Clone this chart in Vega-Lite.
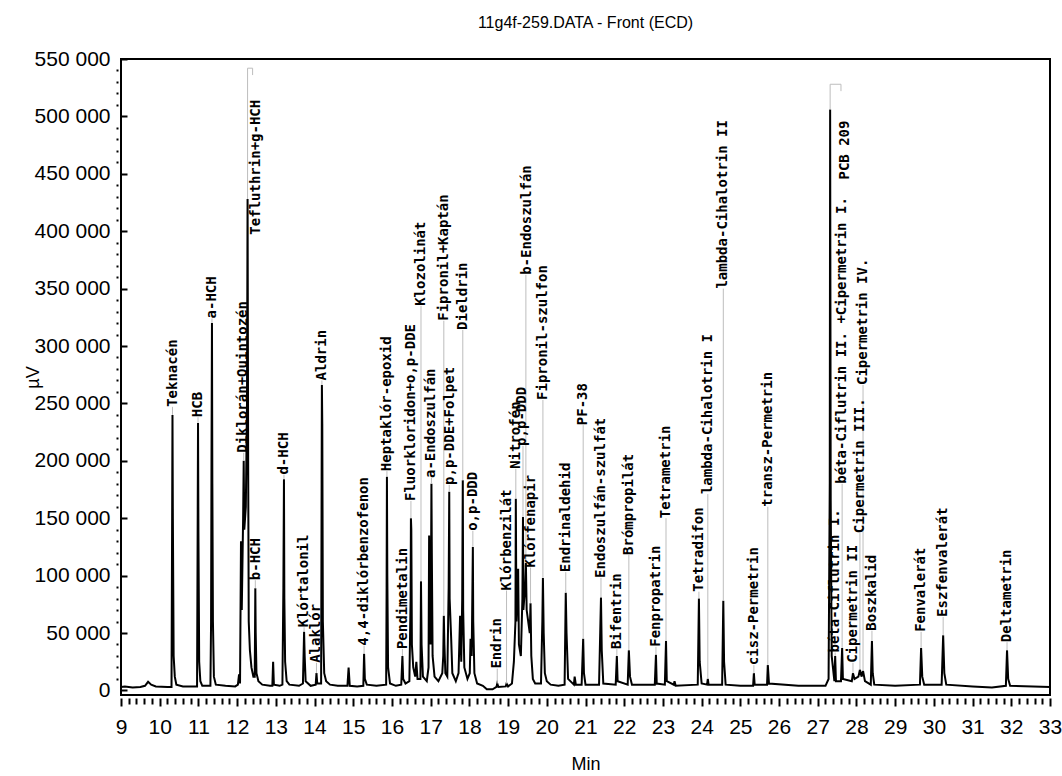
{
"$schema": "https://vega.github.io/schema/vega-lite/v6.json",
"width": 929, "height": 636,
"autosize": {"type": "none"},
"padding": {"left": 121, "top": 59, "right": 12, "bottom": 81},
"background": "white",
"config": {"view": {"stroke": "black", "strokeWidth": 2}, "axis": {"labelOverlap": false, "labelFlush": false, "labelBound": false}},
"title": {"text": "11g4f-259.DATA - Front (ECD)", "font": "Liberation Sans", "fontSize": 16, "fontWeight": "normal", "color": "black", "offset": 17, "anchor": "middle"},
"datasets": {
"trace": [
{"t":9,"v":3000},{"t":9.1,"v":3500},{"t":9.3,"v":2500},{"t":9.5,"v":3000},{"t":9.62,"v":4000},{"t":9.7,"v":7500},{"t":9.78,"v":5000},{"t":9.9,"v":3500},{"t":10.2,"v":3000},
{"t":10.305,"v":3000},{"t":10.322,"v":160000},{"t":10.33,"v":240000},{"t":10.34,"v":150000},{"t":10.36,"v":30000},{"t":10.39,"v":12000},{"t":10.43,"v":5000},{"t":10.6,"v":3500},
{"t":10.965,"v":3500},{"t":10.982,"v":155000},{"t":10.99,"v":233000},{"t":11.0,"v":140000},{"t":11.02,"v":25000},{"t":11.05,"v":8000},{"t":11.1,"v":4000},
{"t":11.31,"v":4000},{"t":11.327,"v":60000},{"t":11.338,"v":200000},{"t":11.35,"v":320000},{"t":11.36,"v":180000},{"t":11.375,"v":60000},{"t":11.4,"v":12000},{"t":11.45,"v":5000},{"t":11.7,"v":4000},{"t":11.95,"v":3500},
{"t":12.02,"v":5000},{"t":12.05,"v":14000},{"t":12.075,"v":6000},{"t":12.1,"v":130000},{"t":12.12,"v":70000},{"t":12.155,"v":150000},{"t":12.17,"v":200000},{"t":12.185,"v":140000},{"t":12.225,"v":160000},{"t":12.255,"v":250000},{"t":12.27,"v":428000},{"t":12.285,"v":200000},{"t":12.3,"v":60000},{"t":12.33,"v":35000},{"t":12.37,"v":20000},{"t":12.42,"v":12000},
{"t":12.455,"v":12000},{"t":12.47,"v":89000},{"t":12.48,"v":50000},{"t":12.5,"v":15000},{"t":12.55,"v":8000},{"t":12.65,"v":5000},{"t":12.85,"v":4000},{"t":12.91,"v":4000},{"t":12.93,"v":25000},{"t":12.95,"v":5000},{"t":13.1,"v":4000},
{"t":13.17,"v":5000},{"t":13.195,"v":90000},{"t":13.21,"v":184000},{"t":13.22,"v":80000},{"t":13.24,"v":25000},{"t":13.28,"v":8000},{"t":13.35,"v":5000},{"t":13.6,"v":4000},
{"t":13.7,"v":6000},{"t":13.73,"v":51000},{"t":13.745,"v":30000},{"t":13.77,"v":8000},{"t":13.9,"v":4000},{"t":14.03,"v":5000},{"t":14.05,"v":15000},{"t":14.07,"v":6000},
{"t":14.17,"v":6000},{"t":14.183,"v":180000},{"t":14.19,"v":266000},{"t":14.2,"v":232000},{"t":14.215,"v":60000},{"t":14.25,"v":15000},{"t":14.3,"v":8000},{"t":14.4,"v":5000},{"t":14.6,"v":4000},
{"t":14.85,"v":4000},{"t":14.88,"v":20000},{"t":14.91,"v":4000},{"t":15.1,"v":3500},{"t":15.26,"v":4000},{"t":15.28,"v":32000},{"t":15.3,"v":10000},{"t":15.35,"v":5000},{"t":15.6,"v":4000},
{"t":15.85,"v":5000},{"t":15.862,"v":90000},{"t":15.87,"v":186000},{"t":15.88,"v":100000},{"t":15.9,"v":20000},{"t":15.95,"v":6000},{"t":16.1,"v":4000},
{"t":16.24,"v":5000},{"t":16.27,"v":30000},{"t":16.29,"v":10000},{"t":16.35,"v":6000},{"t":16.45,"v":8000},{"t":16.482,"v":80000},{"t":16.49,"v":150000},{"t":16.5,"v":140000},{"t":16.515,"v":40000},{"t":16.55,"v":20000},{"t":16.6,"v":12000},{"t":16.63,"v":25000},{"t":16.66,"v":10000},
{"t":16.735,"v":10000},{"t":16.75,"v":95000},{"t":16.765,"v":40000},{"t":16.8,"v":12000},{"t":16.9,"v":8000},{"t":16.945,"v":20000},{"t":16.96,"v":135000},{"t":16.975,"v":60000},{"t":17.0,"v":40000},{"t":17.02,"v":180000},{"t":17.03,"v":120000},{"t":17.05,"v":30000},{"t":17.1,"v":12000},{"t":17.2,"v":8000},
{"t":17.3,"v":15000},{"t":17.325,"v":30000},{"t":17.34,"v":65000},{"t":17.355,"v":40000},{"t":17.38,"v":15000},{"t":17.43,"v":12000},{"t":17.465,"v":90000},{"t":17.48,"v":173000},{"t":17.49,"v":80000},{"t":17.53,"v":45000},{"t":17.56,"v":15000},{"t":17.65,"v":8000},
{"t":17.72,"v":15000},{"t":17.76,"v":65000},{"t":17.79,"v":25000},{"t":17.815,"v":80000},{"t":17.83,"v":183000},{"t":17.84,"v":70000},{"t":17.87,"v":20000},{"t":17.95,"v":10000},{"t":18.01,"v":15000},{"t":18.03,"v":45000},{"t":18.06,"v":30000},{"t":18.09,"v":125000},{"t":18.1,"v":60000},{"t":18.13,"v":15000},{"t":18.2,"v":6000},
{"t":18.35,"v":4000},{"t":18.45,"v":1000},{"t":18.6,"v":1000},{"t":18.7,"v":3000},{"t":18.72,"v":6000},{"t":18.75,"v":3000},{"t":18.94,"v":3500},{"t":18.96,"v":6000},{"t":19.0,"v":3500},
{"t":19.1,"v":6000},{"t":19.15,"v":25000},{"t":19.19,"v":60000},{"t":19.2,"v":167000},{"t":19.215,"v":60000},{"t":19.26,"v":106000},{"t":19.28,"v":40000},{"t":19.33,"v":30000},{"t":19.37,"v":80000},{"t":19.385,"v":151000},{"t":19.395,"v":70000},{"t":19.44,"v":90000},{"t":19.46,"v":111000},{"t":19.48,"v":70000},{"t":19.56,"v":50000},{"t":19.58,"v":76000},{"t":19.6,"v":30000},{"t":19.64,"v":10000},{"t":19.7,"v":6000},
{"t":19.85,"v":6000},{"t":19.885,"v":60000},{"t":19.9,"v":98000},{"t":19.92,"v":50000},{"t":19.95,"v":15000},{"t":20.0,"v":8000},{"t":20.1,"v":5000},{"t":20.3,"v":4000},
{"t":20.46,"v":5000},{"t":20.49,"v":85000},{"t":20.51,"v":50000},{"t":20.55,"v":10000},{"t":20.7,"v":5000},{"t":20.72,"v":12000},{"t":20.75,"v":5000},{"t":20.9,"v":5000},{"t":20.94,"v":45000},{"t":20.96,"v":15000},{"t":21.0,"v":5000},
{"t":21.35,"v":5000},{"t":21.4,"v":81000},{"t":21.42,"v":35000},{"t":21.46,"v":6000},{"t":21.78,"v":5000},{"t":21.81,"v":30000},{"t":21.83,"v":8000},{"t":22.09,"v":5000},{"t":22.12,"v":35000},{"t":22.15,"v":12000},{"t":22.2,"v":5000},
{"t":22.79,"v":5000},{"t":22.82,"v":31000},{"t":22.84,"v":6000},{"t":23.05,"v":5000},{"t":23.08,"v":43000},{"t":23.1,"v":8000},{"t":23.28,"v":5000},{"t":23.3,"v":8000},{"t":23.33,"v":4000},
{"t":23.9,"v":5000},{"t":23.93,"v":80000},{"t":23.95,"v":25000},{"t":24.0,"v":6000},{"t":24.14,"v":5000},{"t":24.16,"v":10000},{"t":24.18,"v":5000},{"t":24.53,"v":5000},{"t":24.56,"v":78000},{"t":24.58,"v":25000},{"t":24.62,"v":5000},
{"t":25.0,"v":4000},{"t":25.33,"v":4000},{"t":25.35,"v":15000},{"t":25.37,"v":5000},{"t":25.69,"v":5000},{"t":25.71,"v":22000},{"t":25.74,"v":6000},{"t":26.5,"v":4000},
{"t":27.2,"v":4000},{"t":27.28,"v":10000},{"t":27.31,"v":180000},{"t":27.32,"v":506000},{"t":27.335,"v":165000},{"t":27.36,"v":30000},{"t":27.43,"v":8000},{"t":27.45,"v":30000},{"t":27.47,"v":8000},{"t":27.6,"v":8000},{"t":27.63,"v":37000},{"t":27.65,"v":10000},
{"t":27.88,"v":8000},{"t":27.91,"v":15000},{"t":27.95,"v":10000},{"t":28.05,"v":12000},{"t":28.09,"v":18000},{"t":28.13,"v":12000},{"t":28.17,"v":17000},{"t":28.22,"v":8000},{"t":28.37,"v":5000},{"t":28.4,"v":43000},{"t":28.42,"v":15000},{"t":28.46,"v":5000},
{"t":29.0,"v":4000},{"t":29.64,"v":5000},{"t":29.67,"v":37000},{"t":29.7,"v":12000},{"t":29.75,"v":5000},{"t":30.2,"v":5000},{"t":30.24,"v":48000},{"t":30.27,"v":15000},{"t":30.32,"v":5000},
{"t":31.0,"v":3500},{"t":31.5,"v":2500},{"t":31.86,"v":4000},{"t":31.89,"v":35000},{"t":31.92,"v":10000},{"t":31.97,"v":4000},{"t":33.0,"v":3000}
],
"peaks": [
{"name":"Teknacén","t":10.33,"h":240000,"top":247000,"lt":10.34,"ly":247000},
{"name":"HCB","t":10.99,"h":233000,"top":238000,"lt":11.0,"ly":238000},
{"name":"a-HCH","t":11.35,"h":320000,"top":324000,"lt":11.36,"ly":324000},
{"name":"Diklorán+Quintozén","t":12.17,"h":200000,"top":207000,"lt":12.16,"ly":207000},
{"name":"Tefluthrin+g-HCH","t":12.27,"h":428000,"top":542000,"lt":12.5,"ly":397000},
{"name":"b-HCH","t":12.47,"h":89000,"top":96000,"lt":12.5,"ly":96000},
{"name":"d-HCH","t":13.21,"h":184000,"top":188000,"lt":13.22,"ly":188000},
{"name":"Klórtalonil","t":13.73,"h":51000,"top":55000,"lt":13.72,"ly":55000},
{"name":"Alaklór","t":14.05,"h":15000,"top":24000,"lt":14.05,"ly":24000},
{"name":"Aldrin","t":14.19,"h":266000,"top":270000,"lt":14.19,"ly":270000},
{"name":"4,4-diklórbenzofenon","t":15.28,"h":32000,"top":39000,"lt":15.29,"ly":39000},
{"name":"Heptaklór-epoxid","t":15.87,"h":186000,"top":191000,"lt":15.87,"ly":191000},
{"name":"Pendimetalin","t":16.27,"h":30000,"top":36000,"lt":16.28,"ly":36000},
{"name":"Fluorkloridon+o,p-DDE","t":16.49,"h":150000,"top":165000,"lt":16.49,"ly":165000},
{"name":"Klozolinát","t":16.75,"h":95000,"top":335000,"lt":16.75,"ly":335000},
{"name":"a-Endoszulfán","t":17.02,"h":180000,"top":185000,"lt":17.02,"ly":185000},
{"name":"Fipronil+Kaptán","t":17.34,"h":65000,"top":322000,"lt":17.34,"ly":322000},
{"name":"p,p-DDE+Folpet","t":17.48,"h":173000,"top":179000,"lt":17.5,"ly":179000},
{"name":"Dieldrin","t":17.83,"h":183000,"top":314000,"lt":17.84,"ly":314000},
{"name":"o,p-DDD","t":18.09,"h":125000,"top":139000,"lt":18.1,"ly":139000},
{"name":"Endrin","t":18.72,"h":6000,"top":19000,"lt":18.72,"ly":19000},
{"name":"Klórbenzilát","t":18.96,"h":6000,"top":87000,"lt":18.96,"ly":87000},
{"name":"Nitrofén","t":19.2,"h":167000,"top":193000,"lt":19.2,"ly":193000},
{"name":"p,p-DDD","t":19.385,"h":151000,"top":213000,"lt":19.37,"ly":213000},
{"name":"b-Endoszulfán","t":19.46,"h":111000,"top":362000,"lt":19.48,"ly":362000},
{"name":"Klórfenapir","t":19.58,"h":76000,"top":107000,"lt":19.6,"ly":107000},
{"name":"Fipronil-szulfon","t":19.9,"h":98000,"top":253000,"lt":19.9,"ly":253000},
{"name":"Endrinaldehid","t":20.49,"h":85000,"top":103000,"lt":20.49,"ly":103000},
{"name":"PF-38","t":20.94,"h":45000,"top":231000,"lt":20.94,"ly":231000},
{"name":"Endoszulfán-szulfát","t":21.4,"h":81000,"top":98000,"lt":21.4,"ly":98000},
{"name":"Bifentrin","t":21.81,"h":30000,"top":36000,"lt":21.81,"ly":36000},
{"name":"Brómpropilát","t":22.12,"h":35000,"top":118000,"lt":22.12,"ly":118000},
{"name":"Fenpropatrin","t":22.82,"h":31000,"top":38000,"lt":22.82,"ly":38000},
{"name":"Tetrametrin","t":23.08,"h":43000,"top":150000,"lt":23.08,"ly":150000},
{"name":"Tetradifon","t":23.93,"h":80000,"top":86000,"lt":23.93,"ly":86000},
{"name":"lambda-Cihalotrin I","t":24.16,"h":10000,"top":171000,"lt":24.16,"ly":171000},
{"name":"lambda-Cihalotrin II","t":24.56,"h":78000,"top":350000,"lt":24.56,"ly":350000},
{"name":"cisz-Permetrin","t":25.35,"h":15000,"top":22000,"lt":25.35,"ly":22000},
{"name":"transz-Permetrin","t":25.71,"h":22000,"top":160000,"lt":25.71,"ly":160000},
{"name":"PCB 209","t":27.32,"h":506000,"top":528000,"lt":27.71,"ly":445000},
{"name":"béta-Ciflutrin I.","t":27.45,"h":30000,"top":33000,"lt":27.45,"ly":33000},
{"name":"béta-Ciflutrin II. +Cipermetrin I.","t":27.63,"h":37000,"top":180000,"lt":27.63,"ly":180000},
{"name":"Cipermetrin II","t":27.91,"h":15000,"top":24000,"lt":27.91,"ly":24000},
{"name":"Cipermetrin III.","t":28.09,"h":18000,"top":137000,"lt":28.09,"ly":137000},
{"name":"Cipermetrin IV.","t":28.17,"h":17000,"top":266000,"lt":28.17,"ly":266000},
{"name":"Boszkalid","t":28.4,"h":43000,"top":52000,"lt":28.4,"ly":52000},
{"name":"Fenvalerát","t":29.67,"h":37000,"top":51000,"lt":29.67,"ly":51000},
{"name":"Eszfenvalerát","t":30.24,"h":48000,"top":64000,"lt":30.24,"ly":64000},
{"name":"Deltametrin","t":31.89,"h":35000,"top":42000,"lt":31.89,"ly":42000}
],
"brackets": [
{"t1":12.27,"t2":12.4,"v1":542000,"v2":542000},
{"t1":12.4,"t2":12.4,"v1":542000,"v2":536000},
{"t1":27.32,"t2":27.6,"v1":528000,"v2":528000},
{"t1":27.6,"t2":27.6,"v1":528000,"v2":522000}
]
},
"layer": [
{"data": {"name": "trace"}, "mark": {"type": "line", "color": "black", "strokeWidth": 2, "clip": true},
 "encoding": {
  "x": {"field": "t", "type": "quantitative", "scale": {"domain": [9, 33], "nice": false, "zero": false},
   "axis": {"tickCount": 1000, "values": [9,9.2,9.4,9.6,9.8,10,10.2,10.4,10.6,10.8,11,11.2,11.4,11.6,11.8,12,12.2,12.4,12.6,12.8,13,13.2,13.4,13.6,13.8,14,14.2,14.4,14.6,14.8,15,15.2,15.4,15.6,15.8,16,16.2,16.4,16.6,16.8,17,17.2,17.4,17.6,17.8,18,18.2,18.4,18.6,18.8,19,19.2,19.4,19.6,19.8,20,20.2,20.4,20.6,20.8,21,21.2,21.4,21.6,21.8,22,22.2,22.4,22.6,22.8,23,23.2,23.4,23.6,23.8,24,24.2,24.4,24.6,24.8,25,25.2,25.4,25.6,25.8,26,26.2,26.4,26.6,26.8,27,27.2,27.4,27.6,27.8,28,28.2,28.4,28.6,28.8,29,29.2,29.4,29.6,29.8,30,30.2,30.4,30.6,30.8,31,31.2,31.4,31.6,31.8,32,32.2,32.4,32.6,32.8,33],
    "labelExpr": "abs(datum.value - round(datum.value)) < 0.001 ? format(datum.value, 'd') : ''",
    "tickSize": {"condition": {"test": "abs(datum.value - round(datum.value)) < 0.001", "value": 8}, "value": 6},
    "tickWidth": 2, "tickColor": "black", "offset": 3, "domain": false, "grid": false,
    "labelFont": "Liberation Sans", "labelFontSize": 21, "labelColor": "black", "labelPadding": 10, "labelOverlap": false, "labelFlush": false,
    "title": "Min", "titleFont": "Liberation Sans", "titleFontSize": 18, "titleFontWeight": "normal", "titleColor": "black", "titlePadding": 18}},
  "y": {"field": "v", "type": "quantitative", "scale": {"domain": [-4000, 550000], "nice": false, "zero": false},
   "axis": {"tickCount": 1000, "values": [0,10000,20000,30000,40000,50000,60000,70000,80000,90000,100000,110000,120000,130000,140000,150000,160000,170000,180000,190000,200000,210000,220000,230000,240000,250000,260000,270000,280000,290000,300000,310000,320000,330000,340000,350000,360000,370000,380000,390000,400000,410000,420000,430000,440000,450000,460000,470000,480000,490000,500000,510000,520000,530000,540000,550000],
    "labelExpr": "datum.value % 50000 === 0 ? replace(format(datum.value, ','), ',', ' ') : ''",
    "tickSize": {"condition": {"test": "datum.value % 50000 === 0", "value": -6}, "value": 5},
    "tickDash": {"condition": {"test": "datum.value % 50000 === 0", "value": [1, 0]}, "value": [2, 3]},
    "tickDashOffset": {"condition": {"test": "datum.value % 50000 === 0", "value": 0}, "value": 2},
    "labelPadding": {"condition": {"test": "datum.value % 50000 === 0", "value": 17}, "value": 0},
    "tickWidth": 2, "tickColor": "black", "domain": false, "grid": false,
    "labelFont": "Liberation Sans", "labelFontSize": 21, "labelColor": "black", "labelOverlap": false, "labelFlush": false,
    "title": "µV", "titleFont": "Liberation Sans", "titleFontSize": 18, "titleFontWeight": "normal", "titleColor": "black",
    "titleAngle": 270, "titleAlign": "center", "titleBaseline": "middle", "titleX": -88, "titleY": 318}}
 }},
{"data": {"name": "peaks"}, "mark": {"type": "rule", "color": "#bdbdbd", "strokeWidth": 1},
 "encoding": {"x": {"field": "t", "type": "quantitative"}, "y": {"field": "h", "type": "quantitative"}, "y2": {"field": "top"}}},
{"data": {"name": "brackets"}, "mark": {"type": "rule", "color": "#bdbdbd", "strokeWidth": 1},
 "encoding": {"x": {"field": "t1", "type": "quantitative"}, "x2": {"field": "t2"}, "y": {"field": "v1", "type": "quantitative"}, "y2": {"field": "v2"}}},
{"data": {"name": "peaks"}, "mark": {"type": "text", "angle": 270, "align": "left", "baseline": "middle", "font": "DejaVu Sans Mono", "fontWeight": "bold", "fontSize": 14, "color": "black"},
 "encoding": {"x": {"field": "lt", "type": "quantitative"}, "y": {"field": "ly", "type": "quantitative"}, "text": {"field": "name"}}}
]
}
